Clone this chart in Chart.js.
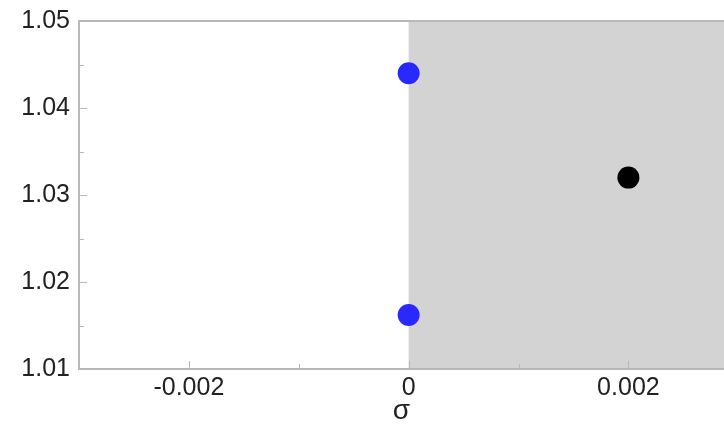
<!DOCTYPE html>
<html>
<head>
<meta charset="utf-8">
<script src="https://cdn.jsdelivr.net/npm/chart.js@4/dist/chart.umd.min.js"></script>
<style>
  html, body { margin: 0; padding: 0; background: #fff; }
  #wrap { width: 724px; height: 424px; }
</style>
</head>
<body>
<div id="wrap"><canvas id="chart"></canvas></div>
<script>
// data
const blueX = [0, 0];
const blueY = [1.044, 1.0162];
const blackX = [0.002];
const blackY = [1.032];

const xMin = -0.003;
const xMax = 0.00287;
const yMin = 1.01;
const yMax = 1.05;
const shadeFrom = 0;

const xTickValues = [-0.002, -0.001, 0, 0.001, 0.002];
const xTickLabels = ["-0.002", "", "0", "", "0.002"];
const yTickValues = [1.01, 1.015, 1.02, 1.025, 1.03, 1.035, 1.04, 1.045, 1.05];
const yTickLabels = ["1.01", "", "1.02", "", "1.03", "", "1.04", "", "1.05"];
const xTitle = "σ";

const axisColor = "#b8b8b8";
const font = { family: "Liberation Sans", size: 25 };

// grey region, frame lines and inward ticks
const framePlugin = {
  id: "frame",
  beforeDatasetsDraw(chart) {
    const { ctx, chartArea: a, scales } = chart;
    const xs = scales.x, ys = scales.y;
    ctx.save();
    ctx.fillStyle = "#d3d3d3";
    const x0 = xs.getPixelForValue(shadeFrom);
    ctx.fillRect(x0, a.top, a.right - x0, a.bottom - a.top);

    ctx.strokeStyle = axisColor;
    ctx.lineWidth = 2;
    ctx.beginPath();
    ctx.moveTo(a.left, a.top); ctx.lineTo(a.right, a.top);
    ctx.moveTo(a.left, a.top - 1); ctx.lineTo(a.left, a.bottom + 1);
    ctx.moveTo(a.left - 1, a.bottom); ctx.lineTo(a.right, a.bottom);
    ctx.stroke();

    ctx.lineWidth = 1;
    ctx.beginPath();
    xTickValues.forEach((v, i) => {
      const px = Math.round(xs.getPixelForValue(v)) + 0.5;
      const len = xTickLabels[i] ? 8 : 5;
      ctx.moveTo(px, a.bottom); ctx.lineTo(px, a.bottom - len);
    });
    yTickValues.forEach((v, i) => {
      const py = Math.round(ys.getPixelForValue(v)) + 0.5;
      const len = yTickLabels[i] ? 8 : 5;
      ctx.moveTo(a.left, py); ctx.lineTo(a.left + len, py);
    });
    ctx.stroke();
    ctx.restore();
  }
};

const ctx = document.getElementById("chart").getContext("2d");
new Chart(ctx, {
  type: "scatter",
  data: {
    datasets: [
      {
        data: blueX.map((x, i) => ({ x: x, y: blueY[i] })),
        backgroundColor: "rgb(40, 40, 255)",
        borderWidth: 0,
        pointRadius: 11,
      },
      {
        data: blackX.map((x, i) => ({ x: x, y: blackY[i] })),
        backgroundColor: "#000",
        borderWidth: 0,
        pointRadius: 11,
      },
    ],
  },
  options: {
    responsive: true,
    maintainAspectRatio: false,
    animation: false,
    layout: { autoPadding: false, padding: { top: 21, right: 0, left: 0, bottom: 0 } },
    plugins: { legend: { display: false }, tooltip: { enabled: false } },
    scales: {
      x: {
        type: "linear",
        min: xMin,
        max: xMax,
        afterBuildTicks: (s) => { s.ticks = xTickValues.map((v) => ({ value: v })); },
        afterFit: (s) => { s.height = 55; s.paddingLeft = 0; s.paddingRight = 0; },
        grid: { display: false, drawTicks: false },
        border: { display: false },
        ticks: {
          color: "#222",
          font: font,
          padding: 4,
          maxRotation: 0,
          autoSkip: false,
          callback: (v, i) => xTickLabels[i],
        },
        title: { display: true, text: xTitle, color: "#222", font: { family: "Liberation Sans", size: 28, lineHeight: 0.9 }, padding: { top: 6, bottom: 0 } },
      },
      y: {
        type: "linear",
        min: yMin,
        max: yMax,
        afterBuildTicks: (s) => { s.ticks = yTickValues.map((v) => ({ value: v })); },
        afterFit: (s) => { s.width = 79; s.paddingTop = 0; s.paddingBottom = 0; },
        grid: { display: false, drawTicks: false },
        border: { display: false },
        ticks: {
          color: "#222",
          font: font,
          padding: 9,
          autoSkip: false,
          callback: (v, i) => yTickLabels[i],
        },
      },
    },
  },
  plugins: [framePlugin],
});
</script>
</body>
</html>
